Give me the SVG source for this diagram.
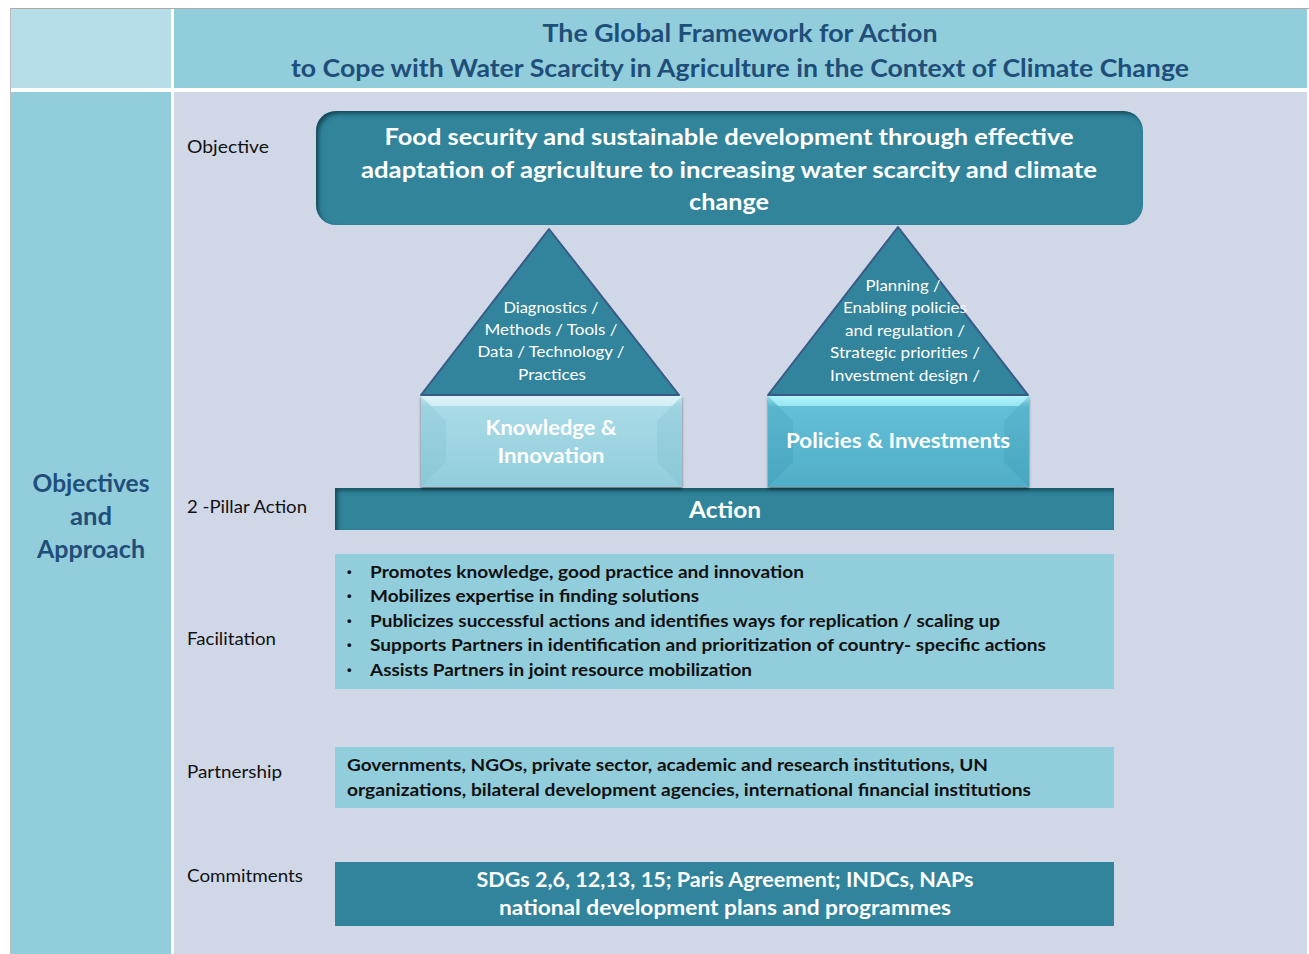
<svg xmlns="http://www.w3.org/2000/svg" width="1309" height="954" viewBox="0 0 1309 954">
<defs>
<style>
.lbl{font-family:Lato,"Open Sans","Liberation Sans",sans-serif;font-size:18px;fill:#111}
.ttl{font-family:Lato,"Open Sans","Liberation Sans",sans-serif;font-size:25px;font-weight:bold;fill:#1f4e79}
.wb{font-family:Lato,"Open Sans","Liberation Sans",sans-serif;font-weight:bold;fill:#fff}
.wt{font-family:Lato,"Open Sans","Liberation Sans",sans-serif;font-size:16px;fill:#fff}
.bl{font-family:Lato,"Open Sans","Liberation Sans",sans-serif;font-size:17px;font-weight:bold;fill:#111}
.dot{font-family:"Liberation Sans",sans-serif;font-size:13px;font-weight:bold;fill:#111}
.teal{fill:#31849b}
.light{fill:#92cddc}
.tri{fill:#31849b;stroke:#3a5a87;stroke-width:2;stroke-linejoin:round}
</style>
<filter id="inner" x="-5%" y="-10%" width="110%" height="120%">
<feComponentTransfer in="SourceAlpha"><feFuncA type="table" tableValues="1 0"/></feComponentTransfer>
<feGaussianBlur stdDeviation="2"/>
<feOffset dx="3" dy="3" result="sh"/>
<feFlood flood-color="#0a2530" flood-opacity="0.8"/>
<feComposite in2="sh" operator="in"/>
<feComposite in2="SourceAlpha" operator="in" result="in"/>
<feMerge><feMergeNode in="SourceGraphic"/><feMergeNode in="in"/></feMerge>
</filter>
<filter id="drop" x="-5%" y="-5%" width="110%" height="115%">
<feGaussianBlur in="SourceAlpha" stdDeviation="1.5"/>
<feOffset dx="0" dy="2" result="b"/>
<feFlood flood-color="#000" flood-opacity="0.5"/>
<feComposite in2="b" operator="in"/>
<feMerge><feMergeNode/><feMergeNode in="SourceGraphic"/></feMerge>
</filter>
<linearGradient id="g1" x1="0" y1="0" x2="0" y2="1">
<stop offset="0" stop-color="#d4f1f7"/><stop offset="0.12" stop-color="#a9dbe6"/><stop offset="1" stop-color="#92cddc"/>
</linearGradient>
<linearGradient id="g2" x1="0" y1="0" x2="0" y2="1">
<stop offset="0" stop-color="#a6f2ff"/><stop offset="0.12" stop-color="#62bfd6"/><stop offset="1" stop-color="#50aec8"/>
</linearGradient>
</defs>

<rect width="1309" height="954" fill="#fff"/>
<g id="table">
<line x1="10" y1="8.5" x2="1309" y2="8.5" stroke="#aaa" stroke-width="1"/>
<line x1="10.5" y1="8" x2="10.5" y2="954" stroke="#bbb" stroke-width="1"/>
<rect x="11" y="9" width="160" height="79" fill="#b7dee8"/>
<rect x="174" y="9" width="1133" height="79" fill="#92cddc"/>
<rect x="11" y="92" width="160" height="862" fill="#92cddc"/>
<rect x="174" y="92" width="1133" height="862" fill="#d0d8e8"/>
</g>

<g id="title">
<text class="ttl" x="740" y="42" text-anchor="middle" textLength="395" lengthAdjust="spacingAndGlyphs">The Global Framework for Action</text>
<text class="ttl" x="740" y="77" text-anchor="middle" textLength="898" lengthAdjust="spacingAndGlyphs">to Cope with Water Scarcity in Agriculture in the Context of Climate Change</text>
</g>

<g id="side-label">
<text class="ttl" style="font-size:24px" x="91" y="492" text-anchor="middle" textLength="117" lengthAdjust="spacingAndGlyphs">Objectives</text>
<text class="ttl" style="font-size:24px" x="91" y="525" text-anchor="middle" textLength="42" lengthAdjust="spacingAndGlyphs">and</text>
<text class="ttl" style="font-size:24px" x="91" y="558" text-anchor="middle" textLength="108" lengthAdjust="spacingAndGlyphs">Approach</text>
</g>

<g id="row-labels">
<text class="lbl" x="187" y="153" textLength="82" lengthAdjust="spacingAndGlyphs">Objective</text>
<text class="lbl" x="187" y="513" textLength="120" lengthAdjust="spacingAndGlyphs">2 -Pillar Action</text>
<text class="lbl" x="187" y="645" textLength="89" lengthAdjust="spacingAndGlyphs">Facilitation</text>
<text class="lbl" x="187" y="778" textLength="95" lengthAdjust="spacingAndGlyphs">Partnership</text>
<text class="lbl" x="187" y="882" textLength="116" lengthAdjust="spacingAndGlyphs">Commitments</text>
</g>

<g id="objective">
<rect class="teal" x="316" y="111" width="827" height="114" rx="20" filter="url(#inner)"/>
<text class="wb" style="font-size:23px" x="729" y="145" text-anchor="middle" textLength="689" lengthAdjust="spacingAndGlyphs">Food security and sustainable development through effective</text>
<text class="wb" style="font-size:23px" x="729" y="178" text-anchor="middle" textLength="736" lengthAdjust="spacingAndGlyphs">adaptation of  agriculture to increasing water scarcity and climate</text>
<text class="wb" style="font-size:23px" x="729" y="210" text-anchor="middle" textLength="80" lengthAdjust="spacingAndGlyphs">change</text>
</g>

<g id="connectors"/>

<g id="action">
<rect class="teal" x="335" y="488" width="779" height="42" filter="url(#inner)"/>
<text class="wb" style="font-size:22px" x="725" y="518" text-anchor="middle" textLength="72" lengthAdjust="spacingAndGlyphs">Action</text>
</g>

<g id="pillar-knowledge">
<polygon class="tri" points="549,229 679,395 421,395"/>
<text class="wt" x="551" y="313" text-anchor="middle" textLength="95" lengthAdjust="spacingAndGlyphs">Diagnostics /</text>
<text class="wt" x="551" y="335" text-anchor="middle" textLength="133" lengthAdjust="spacingAndGlyphs">Methods / Tools /</text>
<text class="wt" x="551" y="357" text-anchor="middle" textLength="147" lengthAdjust="spacingAndGlyphs">Data / Technology /</text>
<text class="wt" x="552" y="380" text-anchor="middle" textLength="68" lengthAdjust="spacingAndGlyphs">Practices</text>
<g filter="url(#drop)">
<rect x="421" y="396" width="261" height="91" fill="url(#g1)"/>
<polygon points="421,396 682,396 672,406 431,406" fill="#e6f8fb" opacity="0.6"/>
<polygon points="421,396 446,421 446,462 421,487" fill="#6fb3c4" opacity="0.2"/>
<polygon points="682,396 657,421 657,462 682,487" fill="#6fb3c4" opacity="0.2"/>
</g>
<text class="wb" style="font-size:21px" x="551" y="435" text-anchor="middle" textLength="131" lengthAdjust="spacingAndGlyphs">Knowledge &amp;</text>
<text class="wb" style="font-size:21px" x="551" y="463" text-anchor="middle" textLength="107" lengthAdjust="spacingAndGlyphs">Innovation</text>
</g>

<g id="pillar-policies">
<polygon class="tri" points="898,227 1028,395 768,395"/>
<text class="wt" x="903" y="291" text-anchor="middle" textLength="75" lengthAdjust="spacingAndGlyphs">Planning /</text>
<text class="wt" x="905" y="313" text-anchor="middle" textLength="124" lengthAdjust="spacingAndGlyphs">Enabling policies</text>
<text class="wt" x="905" y="336" text-anchor="middle" textLength="120" lengthAdjust="spacingAndGlyphs">and regulation /</text>
<text class="wt" x="905" y="358" text-anchor="middle" textLength="150" lengthAdjust="spacingAndGlyphs">Strategic priorities /</text>
<text class="wt" x="905" y="381" text-anchor="middle" textLength="150" lengthAdjust="spacingAndGlyphs">Investment design /</text>
<g filter="url(#drop)">
<rect x="768" y="396" width="261" height="91" fill="url(#g2)"/>
<polygon points="768,396 1029,396 1019,406 778,406" fill="#b8f8ff" opacity="0.6"/>
<polygon points="768,396 793,421 793,462 768,487" fill="#2f8aa3" opacity="0.18"/>
<polygon points="1029,396 1004,421 1004,462 1029,487" fill="#2f8aa3" opacity="0.18"/>
</g>
<text class="wb" style="font-size:21px" x="898" y="448" text-anchor="middle" textLength="224" lengthAdjust="spacingAndGlyphs">Policies &amp; Investments</text>
</g>

<g id="facilitation">
<rect class="light" x="335" y="554" width="779" height="135"/>
<g class="dot">
<text x="347" y="576">•</text>
<text x="347" y="600">•</text>
<text x="347" y="625">•</text>
<text x="347" y="649">•</text>
<text x="347" y="674">•</text>
</g>
<g class="bl">
<text x="370" y="578" textLength="434" lengthAdjust="spacingAndGlyphs">Promotes knowledge, good practice and innovation</text>
<text x="370" y="602" textLength="329" lengthAdjust="spacingAndGlyphs">Mobilizes expertise in finding solutions</text>
<text x="370" y="627" textLength="630" lengthAdjust="spacingAndGlyphs">Publicizes successful actions and identifies ways for replication / scaling up</text>
<text x="370" y="651" textLength="676" lengthAdjust="spacingAndGlyphs">Supports Partners  in identification and prioritization of country- specific actions</text>
<text x="370" y="676" textLength="382" lengthAdjust="spacingAndGlyphs">Assists Partners in joint resource mobilization</text>
</g>
</g>

<g id="partnership">
<rect class="light" x="335" y="747" width="779" height="61"/>
<text class="bl" x="347" y="771" textLength="641" lengthAdjust="spacingAndGlyphs">Governments, NGOs, private sector,  academic and research institutions, UN</text>
<text class="bl" x="347" y="796" textLength="684" lengthAdjust="spacingAndGlyphs">organizations, bilateral development agencies, international financial institutions</text>
</g>

<g id="commitments">
<rect class="teal" x="335" y="862" width="779" height="64"/>
<text class="wb" style="font-size:20px" x="725" y="887" text-anchor="middle" textLength="497" lengthAdjust="spacingAndGlyphs">SDGs 2,6, 12,13, 15; Paris Agreement; INDCs, NAPs</text>
<text class="wb" style="font-size:20px" x="725" y="915" text-anchor="middle" textLength="452" lengthAdjust="spacingAndGlyphs">national development  plans and programmes</text>
</g>
</svg>
